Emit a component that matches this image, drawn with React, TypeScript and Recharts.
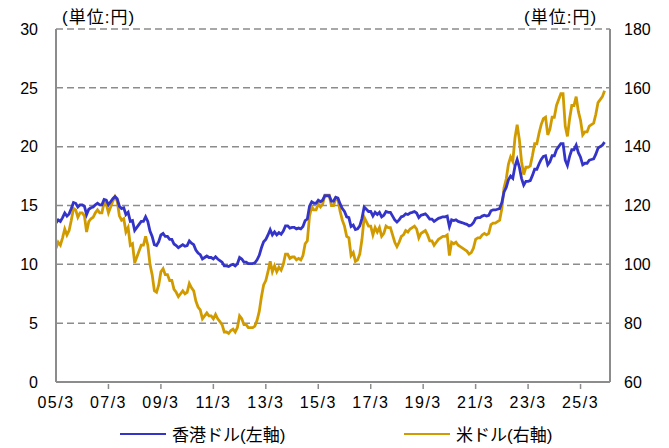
import React from "react";
import {
  LineChart,
  Line,
  XAxis,
  YAxis,
  CartesianGrid,
} from "recharts";

// monthly values from 2005/3 to 2026/2
const START_YEAR = 2005;
const START_MONTH = 3;

const USD_JPY: number[] = [
  // 2005 (Mar-Dec)
  105.5, 107.5, 106.5, 109, 112, 110, 111.5, 115, 119, 118.5,
  // 2006
  116, 117.5, 117.5, 116.5, 111, 114.5, 115.5, 116, 117.5, 118.5, 117.5, 117.5,
  // 2007
  121, 120.5, 117.5, 119.5, 121.5, 123, 121.5, 116.5, 115, 115.5, 111, 112.5,
  // 2008
  106.5, 107, 100.5, 102.5, 104.5, 106.5, 106.5, 109.5, 106.5, 100, 96.5, 91,
  // 2009
  90.5, 93, 97.5, 98.5, 96.5, 96.5, 94.5, 94.5, 91.5, 90.5, 89, 90,
  // 2010
  91, 90, 90.5, 93.5, 92, 91, 87.5, 85.5, 84.5, 81.5, 82.5, 83.5,
  // 2011
  82.5, 82.5, 81.5, 83, 81.5, 80.5, 79.5, 77, 77, 76.5, 77.5, 78,
  // 2012
  77, 78.5, 82.5, 81.5, 79.5, 79.5, 78.5, 78.5, 78.5, 79, 81, 84,
  // 2013
  89, 93, 94.5, 97.5, 101, 97.5, 99.5, 97.5, 99, 98, 100, 103.5,
  // 2014
  103.5, 102, 102.5, 102.5, 101.5, 102, 101.5, 103, 107, 108, 116.5, 119.5,
  // 2015
  118.5, 118.5, 120.5, 119.5, 120.5, 123.5, 123.5, 123.5, 120, 120, 122.5, 122,
  // 2016
  118, 115, 113, 109.5, 109, 103, 104, 101, 101.5, 103.5, 108.5, 116,
  // 2017
  114.5, 113, 113, 110, 112.5, 111, 112.5, 109.5, 110.5, 113, 112.5, 112.5,
  // 2018
  110, 107.5, 106, 107.5, 109.5, 110, 111.5, 111, 112, 112.5, 113, 112,
  // 2019
  109, 110.5, 111, 111.5, 110, 108, 108, 106.5, 107.5, 108.5, 109, 109.5,
  // 2020
  109.5, 110, 103, 107.5, 107, 107.5, 106.5, 106, 105.5, 105, 104.5, 103.5,
  // 2021
  104, 105.5, 108.5, 109, 109, 110, 110.5, 110, 110.5, 113.5, 114, 114,
  // 2022
  114.5, 115, 119, 126, 129, 134, 136.5, 135, 143, 147.5, 142.5, 135,
  // 2023
  130.5, 133, 133, 133.5, 137, 141, 141, 144.5, 147.5, 149.5, 150, 144,
  // 2024
  146, 150, 150, 154, 156, 158, 158, 147, 143.5, 149.5, 154, 154,
  // 2025
  157, 152, 149, 144, 145, 145, 147, 147.5, 148, 151, 155, 156,
  // 2026
  157, 159,
];

const HKD_JPY: number[] = [
  // 2005 (Mar-Dec)
  13.53, 13.78, 13.65, 13.97, 14.36, 14.1, 14.29, 14.74, 15.26, 15.19,
  // 2006
  14.87, 15.06, 15.06, 14.94, 14.23, 14.68, 14.81, 14.87, 15.06, 15.19, 15.06, 15.06,
  // 2007
  15.51, 15.45, 15.06, 15.32, 15.58, 15.77, 15.58, 14.94, 14.74, 14.81, 14.23, 14.42,
  // 2008
  13.65, 13.72, 12.88, 13.14, 13.4, 13.65, 13.65, 14.04, 13.65, 12.82, 12.37, 11.67,
  // 2009
  11.6, 11.92, 12.5, 12.63, 12.37, 12.37, 12.12, 12.12, 11.73, 11.6, 11.41, 11.54,
  // 2010
  11.67, 11.54, 11.6, 11.99, 11.79, 11.67, 11.22, 10.96, 10.83, 10.45, 10.58, 10.71,
  // 2011
  10.58, 10.58, 10.45, 10.64, 10.45, 10.32, 10.19, 9.87, 9.87, 9.81, 9.94, 10.0,
  // 2012
  9.87, 10.06, 10.58, 10.45, 10.19, 10.19, 10.06, 10.06, 10.06, 10.13, 10.38, 10.77,
  // 2013
  11.41, 11.92, 12.12, 12.5, 12.95, 12.5, 12.76, 12.5, 12.69, 12.56, 12.82, 13.27,
  // 2014
  13.27, 13.08, 13.14, 13.14, 13.01, 13.08, 13.01, 13.21, 13.72, 13.85, 14.94, 15.32,
  // 2015
  15.19, 15.19, 15.45, 15.32, 15.45, 15.83, 15.83, 15.83, 15.38, 15.38, 15.71, 15.64,
  // 2016
  15.13, 14.74, 14.49, 14.04, 13.97, 13.21, 13.33, 12.95, 13.01, 13.27, 13.91, 14.87,
  // 2017
  14.68, 14.49, 14.49, 14.1, 14.42, 14.23, 14.42, 14.04, 14.17, 14.49, 14.42, 14.42,
  // 2018
  14.1, 13.78, 13.59, 13.78, 14.04, 14.1, 14.29, 14.23, 14.36, 14.42, 14.49, 14.36,
  // 2019
  13.97, 14.17, 14.23, 14.29, 14.1, 13.85, 13.85, 13.65, 13.78, 13.91, 13.97, 14.04,
  // 2020
  14.04, 14.1, 13.21, 13.78, 13.72, 13.78, 13.65, 13.59, 13.53, 13.46, 13.4, 13.27,
  // 2021
  13.33, 13.53, 13.91, 13.97, 13.97, 14.1, 14.17, 14.1, 14.17, 14.55, 14.62, 14.62,
  // 2022
  14.68, 14.74, 15.26, 16.15, 16.54, 17.18, 17.5, 17.31, 18.33, 18.91, 18.27, 17.31,
  // 2023
  16.73, 17.05, 17.05, 17.12, 17.56, 18.08, 18.08, 18.53, 18.91, 19.17, 19.23, 18.46,
  // 2024
  18.72, 19.23, 19.23, 19.74, 20.0, 20.26, 20.26, 18.85, 18.4, 19.17, 19.74, 19.74,
  // 2025
  20.13, 19.49, 19.1, 18.46, 18.59, 18.59, 18.85, 18.91, 18.97, 19.36, 19.87, 20.0,
  // 2026
  20.13, 20.38,
];

const TICK_LABELS = ["05/3", "07/3", "09/3", "11/3", "13/3", "15/3", "17/3", "19/3", "21/3", "23/3", "25/3"];
const LEFT_TICKS = [0, 5, 10, 15, 20, 25, 30];
const RIGHT_TICKS = [60, 80, 100, 120, 140, 160, 180];
const SERIES_NAMES = ["香港ドル(左軸)", "米ドル(右軸)"];
const UNIT_LABEL = "(単位:円)";

const monthToT = (i: number) => START_YEAR + (START_MONTH - 1 + i) / 12;

const data = USD_JPY.map((usd, i) => ({ t: monthToT(i), usd, hkd: HKD_JPY[i] }));
const xTicks = TICK_LABELS.map((_, i) => START_YEAR + 2 * i + (START_MONTH - 1) / 12);

const FONT = "'Liberation Sans Narrow', 'Liberation Sans', 'Noto Sans CJK JP', sans-serif";
const BLUE = "#3434c8";
const GOLD = "#d19b00";
const GRAY = "#8c8c8c";

function XTick(props: any) {
  const { x, y, payload, index } = props;
  return (
    <g>
      {index > 0 && index < TICK_LABELS.length ? (
        <line x1={x} x2={x} y1={y - 6} y2={y - 1} stroke={GRAY} strokeWidth={1.5} />
      ) : null}
      <text x={x} y={y + 18} textAnchor="middle" fill="#000" fontSize={16} fontFamily={FONT} letterSpacing={1.5}>
        {TICK_LABELS[xTicks.indexOf(payload.value)] ?? ""}
      </text>
    </g>
  );
}

export default function App() {
  return (
    <div style={{ position: "absolute", left: 0, top: 0, width: 669, height: 448, background: "#fff" }}>
      <LineChart width={669} height={448} data={data} margin={{ top: 29, right: 0, bottom: 36, left: 0 }}>
        <CartesianGrid yAxisId="left" vertical={false} stroke={GRAY} strokeWidth={1.5} strokeDasharray="7 4" />
        <XAxis
          dataKey="t"
          type="number"
          domain={[xTicks[0], 2026.29]}
          ticks={xTicks}
          allowDataOverflow
          height={30}
          tickLine={false}
          axisLine={{ stroke: GRAY, strokeWidth: 2 }}
          tick={<XTick />}
          interval={0}
        />
        <YAxis
          yAxisId="left"
          domain={[0, 30]}
          ticks={LEFT_TICKS}
          width={56}
          tickLine={false}
          axisLine={{ stroke: GRAY, strokeWidth: 2 }}
          tick={{ fill: "#000", fontSize: 16, fontFamily: FONT }}
          tickMargin={12}
          interval={0}
        />
        <YAxis
          yAxisId="right"
          orientation="right"
          domain={[60, 180]}
          ticks={RIGHT_TICKS}
          width={59}
          tickLine={false}
          axisLine={{ stroke: GRAY, strokeWidth: 2 }}
          tick={{ fill: "#000", fontSize: 16, fontFamily: FONT }}
          tickMargin={8}
          interval={0}
        />
        <Line
          yAxisId="right"
          dataKey="usd"
          stroke={GOLD}
          strokeWidth={2.8}
          dot={false}
          type="linear"
          isAnimationActive={false}
        />
        <Line
          yAxisId="left"
          dataKey="hkd"
          stroke={BLUE}
          strokeWidth={2.8}
          dot={false}
          type="linear"
          isAnimationActive={false}
        />
      </LineChart>
      <div style={{ position: "absolute", left: 62, top: 3, fontSize: 17, fontFamily: FONT, letterSpacing: 1 }}>{UNIT_LABEL}</div>
      <div style={{ position: "absolute", left: 524, top: 3, fontSize: 17, fontFamily: FONT, letterSpacing: 1 }}>{UNIT_LABEL}</div>
      <div style={{ position: "absolute", left: 120, top: 421, display: "flex", alignItems: "center", fontSize: 17, fontFamily: FONT }}>
        <span style={{ display: "inline-block", width: 46, height: 2, background: BLUE, marginRight: 6 }} />
        <span>{SERIES_NAMES[0]}</span>
      </div>
      <div style={{ position: "absolute", left: 404, top: 421, display: "flex", alignItems: "center", fontSize: 17, fontFamily: FONT }}>
        <span style={{ display: "inline-block", width: 46, height: 2, background: GOLD, marginRight: 6 }} />
        <span>{SERIES_NAMES[1]}</span>
      </div>
    </div>
  );
}
